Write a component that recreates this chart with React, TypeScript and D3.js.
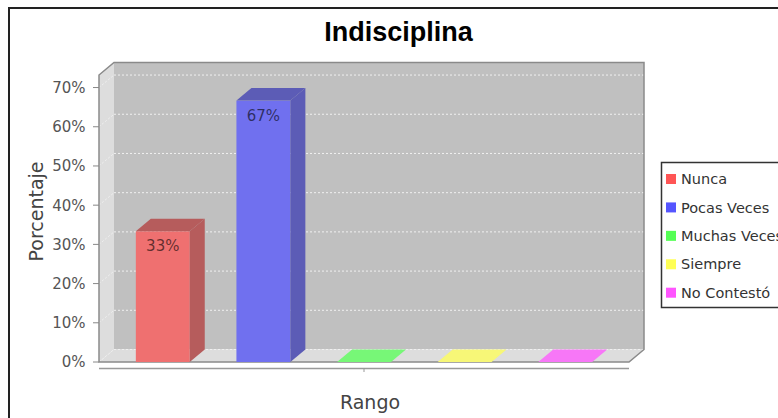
import React from "react";
import * as d3 from "d3";

const title = "Indisciplina";
const yAxisLabel = "Porcentaje";
const xAxisLabel = "Rango";
const series = ["Nunca", "Pocas Veces", "Muchas Veces", "Siempre", "No Contestó"];
const values = [0.3333, 0.6667, 0, 0, 0];
const labels = ["33%", "67%", "", "", ""];
const yTicks = [0, 0.1, 0.2, 0.3, 0.4, 0.5, 0.6, 0.7];
const baseColors = ["#FF5555", "#5555FF", "#55FF55", "#FFFF55", "#FF55FF"];

const W = 778;
const H = 418;
const FONT = "'DejaVu Sans', 'Liberation Sans', sans-serif";

export default function App() {
  const left = 99;
  const right = 629;
  const bottom = 362;
  const top = 75;
  const dx = 15;
  const dy = 12.5;
  const wallBg = "#C0C0C0";
  const floorBg = "#DDDDDD";
  const alpha = 0.75;

  const y = d3.scaleLinear().domain([0, 0.732]).range([bottom, top]);
  const x = d3.scaleBand<string>().domain(series).range([left, right]).paddingInner(0.464).paddingOuter(0.366);
  const bw = x.bandwidth();

  const blend = (c: string, a: number, bg: string) => {
    const f = d3.rgb(c);
    const b = d3.rgb(bg);
    return d3.rgb(f.r * a + b.r * (1 - a), f.g * a + b.g * (1 - a), f.b * a + b.b * (1 - a)).formatHex();
  };
  const darker = (c: string) => {
    const f = d3.rgb(c);
    return d3.rgb(f.r * 0.7, f.g * 0.7, f.b * 0.7).formatHex();
  };

  const fmt = d3.format(".0%");
  const legendY = d3.scaleLinear().domain([0, 4]).range([179, 292.7]);

  return (
    <svg width={W} height={H} style={{ position: "absolute", left: 0, top: 0, background: "#fff" }}>
      <rect x={0} y={0} width={W} height={H} fill="#fff" />
      <rect x={9} y={8} width={W + 20} height={H + 20} fill="none" stroke="#222" strokeWidth={2} />
      <text x={398.5} y={41} textAnchor="middle" fontFamily="'Liberation Sans', sans-serif" fontWeight="bold" fontSize={27} fill="#000">
        {title}
      </text>

      {/* back wall */}
      <rect x={left + dx} y={top - dy} width={right - left} height={bottom - top} fill={wallBg} />
      {/* left wall */}
      <path d={`M${left},${top}L${left + dx},${top - dy}L${left + dx},${bottom - dy}L${left},${bottom}Z`} fill={floorBg} />
      {/* floor */}
      <path d={`M${left},${bottom}L${left + dx},${bottom - dy}L${right + dx},${bottom - dy}L${right},${bottom}Z`} fill={floorBg} />

      {/* gridlines */}
      {yTicks.map((t) => (
        <g key={"g" + t}>
          <line x1={left + dx} x2={right + dx} y1={y(t) - dy} y2={y(t) - dy} stroke="#F0F0F0" strokeWidth={1} strokeDasharray="2,2" />
          <line x1={left} x2={left + dx} y1={y(t)} y2={y(t) - dy} stroke="#F0F0F0" strokeWidth={1} strokeDasharray="2,2" />
        </g>
      ))}

      {/* outline */}
      <path
        d={`M${left},${bottom}L${left},${top}L${left + dx},${top - dy}L${right + dx},${top - dy}L${right + dx},${bottom - dy}L${right},${bottom}Z`}
        fill="none"
        stroke="#8A8A8A"
        strokeWidth={1.5}
      />

      {/* bars */}
      {series.map((s, i) => {
        const v = values[i];
        const x0 = x(s)!;
        const y0 = y(v);
        const front = blend(baseColors[i], alpha, wallBg);
        const dark = blend(darker(baseColors[i]), alpha, wallBg);
        const topFill = v > 0 ? dark : blend(baseColors[i], alpha, floorBg);
        return (
          <g key={s}>
            {v > 0 && <rect x={x0} y={y0} width={bw} height={bottom - y0} fill={front} />}
            {v > 0 && (
              <path d={`M${x0 + bw},${y0}L${x0 + bw + dx},${y0 - dy}L${x0 + bw + dx},${bottom - dy}L${x0 + bw},${bottom}Z`} fill={dark} />
            )}
            <path d={`M${x0},${y0}L${x0 + dx},${y0 - dy}L${x0 + bw + dx},${y0 - dy}L${x0 + bw},${y0}Z`} fill={topFill} />
            {labels[i] && (
              <text x={x0 + bw / 2} y={y0 + 20} textAnchor="middle" fontFamily={FONT} fontSize={15} fill="#000" fillOpacity={0.6}>
                {labels[i]}
              </text>
            )}
          </g>
        );
      })}

      {/* y axis ticks */}
      {yTicks.map((t) => (
        <g key={"t" + t}>
          <line x1={left - 6} x2={left} y1={y(t)} y2={y(t)} stroke="#888" />
          <text x={85.5} y={y(t)} dy="0.36em" textAnchor="end" fontFamily={FONT} fontSize={15} fill="#555">
            {fmt(t)}
          </text>
        </g>
      ))}

      {/* category axis */}
      <line x1={left} x2={right} y1={368.5} y2={368.5} stroke="#999" strokeWidth={1.5} />
      <line x1={(left + right) / 2} x2={(left + right) / 2} y1={368.5} y2={372} stroke="#999" />

      <text x={370} y={409} textAnchor="middle" fontFamily={FONT} fontSize={19} fill="#444">
        {xAxisLabel}
      </text>
      <text transform="translate(43,211.5) rotate(-90)" textAnchor="middle" fontFamily={FONT} fontSize={19} fill="#444">
        {yAxisLabel}
      </text>

      {/* legend */}
      <rect x={661.5} y={162.5} width={200} height={145} fill="#fff" stroke="#333" strokeWidth={1.5} />
      {series.map((s, i) => (
        <g key={"l" + s}>
          <rect x={666} y={legendY(i) - 5} width={10} height={10} fill={baseColors[i]} />
          <text x={681} y={legendY(i)} dy="0.36em" fontFamily={FONT} fontSize={14.5} fill="#333">
            {s}
          </text>
        </g>
      ))}
    </svg>
  );
}
